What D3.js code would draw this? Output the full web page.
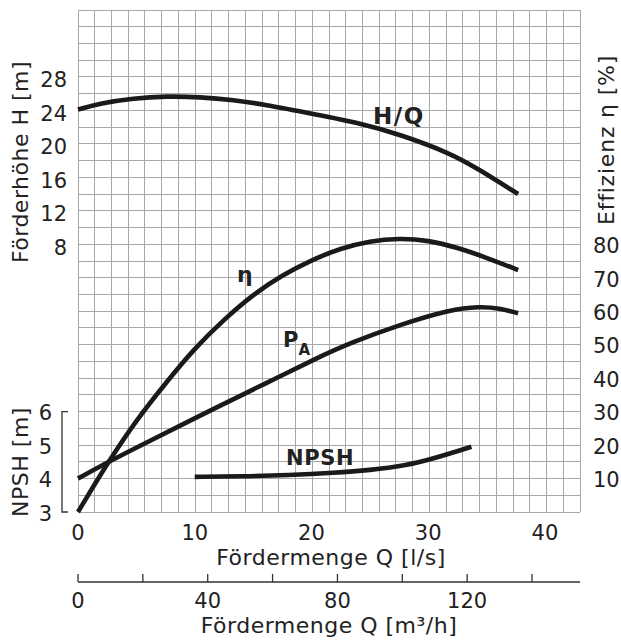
<!DOCTYPE html>
<html><head><meta charset="utf-8">
<script src="https://cdn.jsdelivr.net/npm/d3@7"></script>
<style>
html,body{margin:0;padding:0;background:#fff;}
text{font-family:"DejaVu Sans",Verdana,sans-serif;fill:#222;}
</style></head>
<body>
<script>
// ---- data ----
const hqQ = [0, 1.9, 4.74, 7.6, 10.45, 13.3, 16.2, 19, 24.2, 27.6, 31.9, 34.4, 37.7];
const hqH = [24.1, 24.85, 25.45, 25.7, 25.6, 25.25, 24.65, 23.9, 22.5, 21.1, 18.9, 16.9, 14.0];

const etaQ = [0, 2.5, 5, 7.5, 10, 12.5, 15, 17.5, 20, 22.5, 25, 27.5, 30, 32.5, 35, 37.7];
const etaV = [0, 14.5, 27.5, 38.5, 49, 57.5, 65, 70.8, 75.3, 78.8, 81, 81.8, 81.2, 79, 76, 72.3];

const paQ = [0, 2.6, 6, 12, 16, 20.45, 23.3, 27.6, 31.9, 34.4, 36.1, 37.7];
const paV = [10, 15, 21, 31.5, 38.3, 46, 50.5, 56, 60.5, 61.4, 60.9, 59.4];

const npshQ = [10, 14, 18, 22, 25, 28, 30.5, 33.7];
const npshV = [4.05, 4.065, 4.1, 4.17, 4.25, 4.38, 4.6, 4.95];

const qTicks = [0, 10, 20, 30, 40];
const m3hTicks = [0, 20, 40, 60, 80, 100, 120, 140];
const m3hLabels = [0, 40, 80, 120];
const hTicks = [8, 12, 16, 20, 24, 28];
const etaTicks = [10, 20, 30, 40, 50, 60, 70, 80];
const npshTicks = [3, 4, 5, 6];

// ---- layout ----
const W = 621, H = 641;
const L = 78, R = 580, T = 10, B = 512;
const nCells = 30;

const svg = d3.select("body").append("svg").attr("width", W).attr("height", H);

const x = d3.scaleLinear().domain([0, 43]).range([L, R]);
const xm3 = d3.scaleLinear().domain([0, 43 * 3.6]).range([L, R]);
const cell = (B - T) / nCells;
const yH = d3.scaleLinear().domain([0, 36]).range([T + 18 * cell, T]);
const yEta = d3.scaleLinear().domain([0, 150]).range([B, T]);
const yN = d3.scaleLinear().domain([3, 6]).range([B, B - 6 * cell]);
const gx = d3.scaleLinear().domain([0, nCells]).range([L, R]);
const gy = d3.scaleLinear().domain([0, nCells]).range([T, B]);

// grid
const grid = svg.append("g").attr("stroke", "#a8a8a8").attr("stroke-width", 1).attr("shape-rendering", "crispEdges");
grid.selectAll("line.v").data(d3.range(nCells + 1)).join("line")
  .attr("x1", d => gx(d)).attr("x2", d => gx(d)).attr("y1", T).attr("y2", B);
grid.selectAll("line.h").data(d3.range(nCells + 1)).join("line")
  .attr("y1", d => gy(d)).attr("y2", d => gy(d)).attr("x1", L).attr("x2", R);

// curves
const line = (ys) => d3.line().x(d => x(d[0])).y(d => ys(d[1])).curve(d3.curveBasis);
const curves = svg.append("g").attr("fill", "none").attr("stroke", "#1a1a1a").attr("stroke-width", 4.6);
curves.append("path").attr("d", line(yH)(d3.zip(hqQ, hqH)));
curves.append("path").attr("d", line(yEta)(d3.zip(etaQ, etaV)));
curves.append("path").attr("d", line(yEta)(d3.zip(paQ, paV)));
curves.append("path").attr("d", line(yN)(d3.zip(npshQ, npshV)));

// curve labels
const lab = svg.append("g").style("font-weight", "bold").style("font-size", "22px");
lab.append("text").attr("x", 373).attr("y", 123.5).style("font-size", "23px").style("letter-spacing", "1.5px").text("H/Q");
lab.append("text").attr("x", 237).attr("y", 281.5).text("η");
const pa = lab.append("text").attr("x", 283).attr("y", 346.7).style("font-size", "21px");
pa.append("tspan").text("P");
pa.append("tspan").attr("dy", 8).style("font-size", "15px").text("A");
lab.append("text").attr("x", 286).attr("y", 465).style("font-size", "21px").style("letter-spacing", "0.6px").text("NPSH");

// left H axis labels
const fs = "21px";
const tfs = "22px";
svg.append("g").selectAll("text").data(hTicks).join("text")
  .attr("x", 67).attr("y", d => yH(d) + 10.3).attr("text-anchor", "end").style("font-size", fs).text(d => d);

// right eta labels
svg.append("g").selectAll("text").data(etaTicks).join("text")
  .attr("x", 593).attr("y", d => yEta(d) + 8.8).style("font-size", fs).text(d => d);

// NPSH bracket axis
const nb = svg.append("g").attr("stroke", "#333").attr("stroke-width", 1.3).attr("fill", "none");
nb.append("path").attr("d", `M68,${yN(6)}H62V${yN(3)}H68`);
svg.append("g").selectAll("text").data(npshTicks).join("text")
  .attr("x", 52).attr("y", d => yN(d) + 8.5).attr("text-anchor", "end").style("font-size", fs).text(d => d);

// bottom l/s labels
svg.append("g").selectAll("text").data(qTicks).join("text")
  .attr("x", d => x(d)).attr("y", 540).attr("text-anchor", "middle").style("font-size", fs).text(d => d);
svg.append("text").attr("x", (L + R) / 2 + 2).attr("y", 565).attr("text-anchor", "middle").style("font-size", tfs)
  .style("letter-spacing", "0.5px").text("Fördermenge Q [l/s]");

// m3/h axis
const ax2 = svg.append("g").attr("stroke", "#333").attr("stroke-width", 1.3);
ax2.append("line").attr("x1", L).attr("x2", R).attr("y1", 582).attr("y2", 582);
ax2.selectAll("line.t").data(m3hTicks).join("line")
  .attr("x1", d => xm3(d)).attr("x2", d => xm3(d)).attr("y1", 574).attr("y2", 582);
svg.append("g").selectAll("text").data(m3hLabels).join("text")
  .attr("x", d => xm3(d)).attr("y", 608).attr("text-anchor", "middle").style("font-size", fs).text(d => d);
svg.append("text").attr("x", (L + R) / 2).attr("y", 633).attr("text-anchor", "middle").style("font-size", tfs)
  .style("letter-spacing", "0.5px").text("Fördermenge Q [m³/h]");

// axis titles
svg.append("text").attr("transform", "translate(28,162) rotate(-90)").attr("text-anchor", "middle").style("font-size", tfs)
  .style("letter-spacing", "0.5px").text("Förderhöhe H [m]");
svg.append("text").attr("transform", "translate(28,462) rotate(-90)").attr("text-anchor", "middle").style("font-size", tfs)
  .style("letter-spacing", "0.5px").text("NPSH [m]");
svg.append("text").attr("transform", "translate(614,140) rotate(-90)").attr("text-anchor", "middle").style("font-size", tfs)
  .style("letter-spacing", "0.8px").text("Effizienz η [%]");
</script>
</body></html>
